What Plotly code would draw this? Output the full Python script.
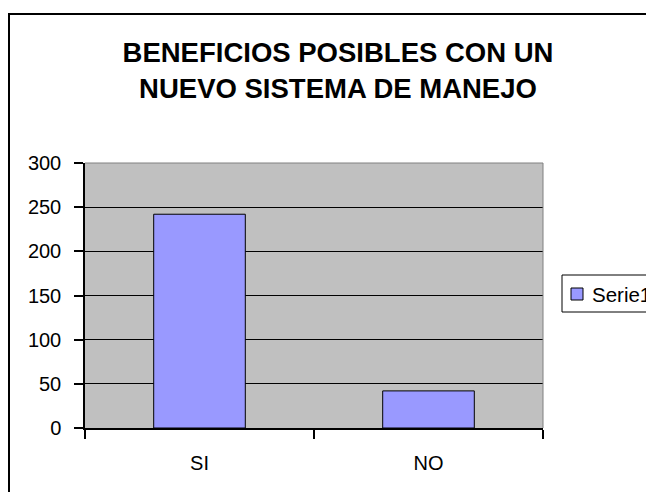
import plotly.graph_objects as go

categories = ["SI", "NO"]
values = [242, 42]
series_name = "Serie1"
y_ticks = [0, 50, 100, 150, 200, 250, 300]
title_lines = ["BENEFICIOS POSIBLES CON UN", "NUEVO SISTEMA DE MANEJO"]

# page body has an 8px margin, so the figure is sized to the visible area
W, H = 646, 484
L, R, T, B = 77, 111, 155, 64
pw, ph = W - L - R, H - T - B

def px_x(x):
    return (x - L) / pw

def px_y(y):
    return (H - B - y) / ph

BAR_COLOR = "#9999FF"
FONT = "Arial, Liberation Sans, sans-serif"

fig = go.Figure()
fig.add_trace(go.Bar(
    x=categories, y=values, name=series_name,
    marker=dict(color=BAR_COLOR, line=dict(color="black", width=1)),
    showlegend=False,
))

shapes = [
    # plot-area border (grey) on top and right
    dict(type="line", xref="paper", yref="paper", x0=0, x1=1, y0=1, y1=1,
         line=dict(color="#808080", width=1), layer="above"),
    dict(type="line", xref="paper", yref="paper", x0=1, x1=1, y0=0, y1=1,
         line=dict(color="#808080", width=1), layer="above"),
    # chart-area border
    dict(type="rect", xref="paper", yref="paper",
         x0=px_x(1), x1=px_x(700), y0=px_y(6), y1=px_y(520),
         line=dict(color="black", width=2), fillcolor="rgba(0,0,0,0)", layer="above"),
    # legend box
    dict(type="rect", xref="paper", yref="paper",
         x0=px_x(554), x1=px_x(680), y0=px_y(267), y1=px_y(304),
         line=dict(color="black", width=1), fillcolor="white", layer="above"),
    # legend swatch
    dict(type="rect", xref="paper", yref="paper",
         x0=px_x(563), x1=px_x(575), y0=px_y(280), y1=px_y(292),
         line=dict(color="black", width=1), fillcolor=BAR_COLOR, layer="above"),
]

annotations = [
    dict(text=series_name, xref="paper", yref="paper",
         x=px_x(582), y=px_y(286), xanchor="left", yanchor="middle",
         showarrow=False, font=dict(size=20.5, family=FONT, color="black")),
]

fig.update_layout(
    width=W, height=H,
    margin=dict(l=L, r=R, t=T, b=B, autoexpand=False),
    paper_bgcolor="white",
    plot_bgcolor="#C0C0C0",
    font=dict(family=FONT, color="black", size=20),
    bargap=0.6,
    title=dict(
        text="<b>" + "<br>".join(title_lines) + "</b>",
        x=330 / W, xref="container", xanchor="center",
        y=1 - 54 / H, yanchor="top", yref="container",
        font=dict(size=27.5, family=FONT),
    ),
    showlegend=False,
    xaxis=dict(
        showline=True, linecolor="black", linewidth=2,
        ticks="outside", tickson="boundaries", ticklen=9, tickcolor="black", tickwidth=1.5,
        ticklabelstandoff=16,
        showgrid=False,
    ),
    yaxis=dict(
        range=[0, 300], tickvals=y_ticks,
        showline=True, linecolor="black", linewidth=1.5,
        ticks="outside", ticklen=9, tickcolor="black", tickwidth=1.5,
        showgrid=True, gridcolor="black", gridwidth=1,
        zeroline=False, ticklabelstandoff=9,
    ),
    shapes=shapes,
    annotations=annotations,
)

fig.write_html("out.html")
